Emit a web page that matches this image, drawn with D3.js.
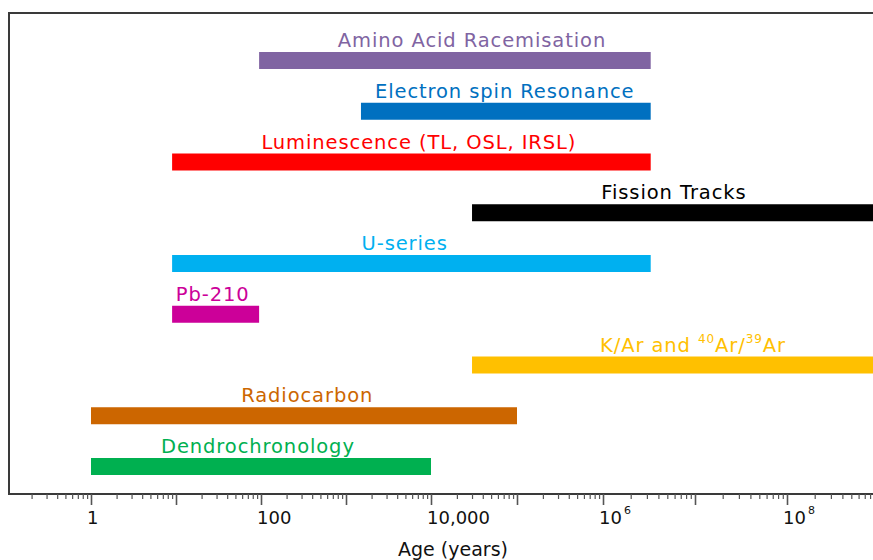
<!DOCTYPE html>
<html>
<head>
<meta charset="utf-8">
<script src="https://cdn.jsdelivr.net/npm/d3@7"></script>
<style>
  html, body { margin: 0; padding: 0; background: #fff; overflow: hidden; }
  svg { display: block; font-family: "DejaVu Sans", Verdana, sans-serif; }
</style>
</head>
<body>
<svg id="chart" width="873" height="560"></svg>
<script>
// Dating methods and the age ranges (years) they cover
const methods = [
  "Amino Acid Racemisation",
  "Electron spin Resonance",
  "Luminescence (TL, OSL, IRSL)",
  "Fission Tracks",
  "U-series",
  "Pb-210",
  "K/Ar and 40Ar/39Ar",
  "Radiocarbon",
  "Dendrochronology"
];
const rangeStart = [95, 1500, 9, 30000, 9, 9, 30000, 1, 1];
const rangeEnd   = [3.3e6, 3.3e6, 3.3e6, 1e10, 3.3e6, 95, 1e10, 1e5, 1e4];
// age around which each method's name is centred
const labelAge   = [30000, 72000, 7200, 5.9e6, 4900, 27, 9.5e6, 350, 92];
const colors = ["#8064a2", "#0070c0", "#ff0000", "#000000", "#00b0f0",
                "#cc0099", "#ffc000", "#cc6600", "#00b050"];
const labelColors = ["#8064a2", "#0070c0", "#ff0000", "#000000", "#00b0f0",
                     "#cc0099", "#ffc000", "#cc6600", "#00b050"];

// axis ticks: every decade, labelled every second decade
const majorTicks = [1, 10, 100, 1e3, 1e4, 1e5, 1e6, 1e7, 1e8, 1e9];
const labelledExp = [0, 2, 4, 6, 8];
const tickText = ["1", "100", "10,000", "10^6", "10^8"];

const svg = d3.select("#chart");
const frame = { left: 9, top: 13, right: 920, bottom: 494 };

const x = d3.scaleLog()
  .domain([1, 1e4, 1e6, 1e8])
  .range([91, 431, 603, 787]);

const y = d3.scalePoint()
  .domain(methods)
  .range([52, 458]);

const barH = 17;

// plot frame
svg.append("rect")
  .attr("x", frame.left)
  .attr("y", frame.top)
  .attr("width", frame.right - frame.left)
  .attr("height", frame.bottom - frame.top)
  .attr("fill", "none")
  .attr("stroke", "#3a3a3a")
  .attr("stroke-width", 2);

// minor ticks 2..9 within each decade
const minorTicks = [];
for (let e = -1; e <= 8; e++) {
  for (let m = 2; m <= 9; m++) minorTicks.push(m * Math.pow(10, e));
}
const minorAxis = d3.axisBottom(x)
  .tickValues(minorTicks.filter(v => x(v) > frame.left + 2))
  .tickSize(5)
  .tickFormat("");
const gMinor = svg.append("g")
  .attr("transform", `translate(0,${frame.bottom})`)
  .call(minorAxis);
gMinor.select(".domain").remove();
gMinor.selectAll(".tick line").attr("stroke", "#555").attr("stroke-width", 1.2);

// major decade ticks
const majorAxis = d3.axisBottom(x)
  .tickValues(majorTicks)
  .tickSize(11)
  .tickFormat("");
const gMajor = svg.append("g")
  .attr("transform", `translate(0,${frame.bottom})`)
  .call(majorAxis);
gMajor.select(".domain").remove();
gMajor.selectAll(".tick line").attr("stroke", "#555").attr("stroke-width", 1.6);

// tick labels (powers of ten written with superscripts)
labelledExp.forEach((e, i) => {
  const t = svg.append("text")
    .attr("x", x(Math.pow(10, e)) - 4)
    .attr("y", 524)
    .attr("font-size", 18)
    .attr("fill", "#111");
  const parts = tickText[i].split("^");
  t.append("tspan").text(parts[0]);
  if (parts[1]) {
    t.append("tspan")
      .attr("dy", -10)
      .attr("dx", 2)
      .attr("font-size", 11)
      .text(parts[1]);
  }
});

// axis title
svg.append("text")
  .attr("x", 453)
  .attr("y", 556)
  .attr("text-anchor", "middle")
  .attr("font-size", 19)
  .attr("fill", "#111")
  .text("Age (years)");

// range bars
svg.append("g")
  .selectAll("rect")
  .data(methods)
  .join("rect")
  .attr("x", (d, i) => x(rangeStart[i]))
  .attr("y", d => y(d))
  .attr("width", (d, i) => x(rangeEnd[i]) - x(rangeStart[i]))
  .attr("height", barH)
  .attr("fill", (d, i) => colors[i]);

// method names above the bars
const labels = svg.append("g")
  .selectAll("text")
  .data(methods)
  .join("text")
  .attr("x", (d, i) => x(labelAge[i]))
  .attr("y", d => y(d) - 5)
  .attr("text-anchor", "middle")
  .attr("font-size", 19.5)
  .attr("letter-spacing", 0.9)
  .attr("fill", (d, i) => labelColors[i]);

labels.each(function(d) {
  const t = d3.select(this);
  const m = d.match(/^(.*?)(\d+)Ar\/(\d+)Ar$/);
  if (m) {
    t.append("tspan").text(m[1]);
    t.append("tspan").attr("font-size", 12).attr("dy", -9).text(m[2]);
    t.append("tspan").attr("dy", 9).text("Ar/");
    t.append("tspan").attr("font-size", 12).attr("dy", -9).text(m[3]);
    t.append("tspan").attr("dy", 9).text("Ar");
  } else {
    t.text(d);
  }
});
</script>
</body>
</html>
